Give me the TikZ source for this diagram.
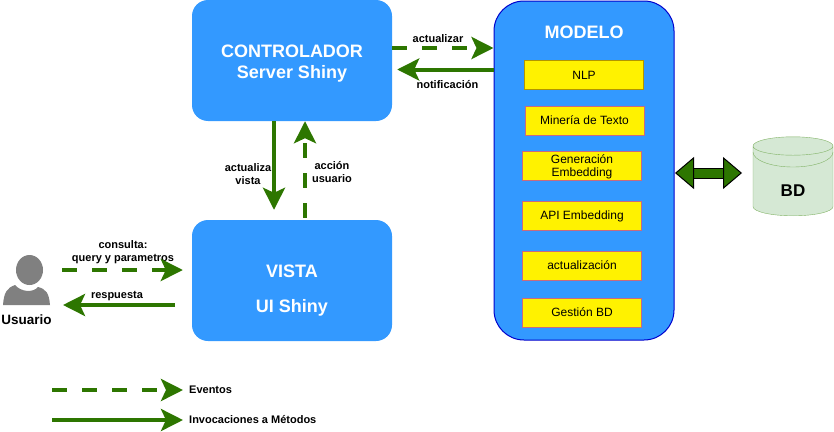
\documentclass[tikz,border=0pt]{standalone}
\usepackage{fontspec}
\setmainfont{Liberation Sans}
\usetikzlibrary{arrows.meta,positioning,shapes.geometric}

\definecolor{azulcaja}{HTML}{3399FF}
\definecolor{azulborde}{HTML}{0000CC}
\definecolor{verde}{HTML}{2D7600}
\definecolor{gris}{HTML}{808080}
\definecolor{bordeitem}{HTML}{C86A80}
\definecolor{bordenlp}{HTML}{B09500}
\definecolor{cilindro}{HTML}{D5E8D4}
\definecolor{bordecil}{HTML}{82B366}

\tikzset{
  caja/.style={rectangle,rounded corners=16pt,fill=azulcaja,text=white,font=\bfseries\fontsize{18}{21}\selectfont,
    align=center,minimum width=200pt,minimum height=121pt,inner sep=0pt},
  item/.style={rectangle,fill=yellow,draw=#1,line width=0.7pt,font=\fontsize{12}{13}\selectfont,
    align=center,minimum width=119pt,minimum height=29pt,inner sep=0pt},
  item/.default=bordeitem,
  etiqueta/.style={font=\bfseries\fontsize{11}{13}\selectfont,align=center,inner sep=0pt},
  metodo/.style={draw=verde,line width=4pt,-{Stealth[length=22pt,width=22pt,inset=5pt,fill=verde]}},
  evento/.style={metodo,dash pattern=on 15pt off 15pt},
  doble/.style={double=verde,double distance=9pt,line width=1pt,
    {Stealth[length=19pt,width=32pt,inset=0pt,fill=verde]}-{Stealth[length=19pt,width=32pt,inset=0pt,fill=verde]}},
}

\begin{document}
\begin{tikzpicture}[x=1pt,y=-1pt]
      \useasboundingbox (0,0) rectangle (834,431);

      \node[caja,text height=39pt] (controlador) at (292,60.5) {CONTROLADOR\\Server Shiny};
      \node[caja,text height=68pt] (vista) at (292,280.5) {VISTA\\[14pt]UI Shiny};
      \node[rectangle,rounded corners=30pt,fill=azulcaja,draw=azulborde,line width=1pt,
        minimum width=180pt,minimum height=339pt] (modelo) at (584,170.5) {};
      \node[font=\bfseries\fontsize{18}{20}\selectfont,text=white] (titulo) at (584,32) {MODELO};

      \node[item=bordenlp] (nlp) at (584,75) {NLP};
      \node[item] (mineria) at (584.5,120.5) {Minería de Texto};
      \node[item,text height=25pt] (generacion) at (582,165.5) {Generación\\Embedding};
      \node[item] (api) at (582,216) {API Embedding};
      \node[item] (actual) at (582,265.5) {actualización};
      \node[item] (gestion) at (582,312.5) {Gestión BD};

      \node[cylinder,shape border rotate=90,aspect=0.75,draw=bordecil,fill=cilindro,
        minimum width=80pt,minimum height=79pt,inner sep=0pt,text height=30pt,
        font=\bfseries\fontsize{17}{20}\selectfont] (bd) at (793,181) {BD};
      \draw[bordecil] (753,152) arc[start angle=180,end angle=360,x radius=40pt,y radius=15pt];

      % usuario
      \fill[gris] (29.5,270) ellipse (13.5 and 15);
      \fill[gris] (3,305) .. controls (4,292) and (7,288) .. (15,285) .. controls (21,292) and (33,293) .. (38,287)
        .. controls (46,289) and (49,293) .. (50,305) -- cycle;
      \node[font=\bfseries\fontsize{13.5}{15}\selectfont,inner sep=0pt] (usuario) at (26.5,320) {Usuario};

      \coordinate (act) at ([yshift=12.5pt]controlador.east);
      \coordinate (noti) at (494,69.5);
      \coordinate (con0) at (62,270);
      \coordinate (res0) at (175,305);
      \coordinate (res1) at (63,305);
      \coordinate (dbl0) at (675,173);
      \coordinate (dbl1) at (742,173);
      \coordinate (ev0) at (52,390);
      \coordinate (inv0) at (52,420);

      \node[etiqueta] (lactualizar) at (438,39) {actualizar};
      \node[etiqueta] (lnoti) at (447.5,85) {notificación};
      \node[etiqueta] (lactualiza) at (248,174) {actualiza\\vista};
      \node[etiqueta] (laccion) at (332,172) {acción\\usuario};
      \node[etiqueta] (lconsulta) at (123,252) {consulta:\\query y parametros};
      \node[etiqueta] (lrespuesta) at (117,296) {respuesta};
      \node[etiqueta,anchor=west] (leventos) at (189,390) {Eventos};
      \node[etiqueta,anchor=west] (linvoca) at (189,420) {Invocaciones a Métodos};

      \draw[evento] (act) -- (act -| modelo.west);
      \draw[metodo,shorten >=5pt] (noti) -- (noti -| controlador.east);
      \draw[metodo,shorten >=10pt] ([xshift=-18pt]controlador.south) -- ([xshift=-18pt]vista.north);
      \draw[evento,shorten <=2pt] ([xshift=13pt]vista.north) -- ([xshift=13pt]controlador.south);
      \draw[evento,shorten >=9pt] (con0) -- (con0 -| vista.west);
      \draw[metodo] (res0) -- (res1);
      \draw[evento,shorten >=6pt] (ev0) -- (ev0 -| leventos.west);
      \draw[metodo,shorten >=6pt] (inv0) -- (inv0 -| linvoca.west);

      \draw[doble] (dbl0) -- (dbl1);
\end{tikzpicture}
\end{document}
